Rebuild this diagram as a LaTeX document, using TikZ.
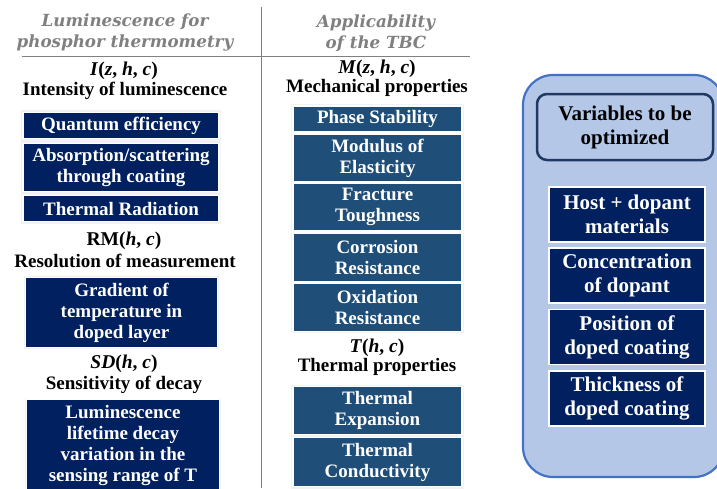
\documentclass[tikz,border=0pt]{standalone}
\usepackage{fontspec}
\setmainfont{Liberation Serif}
\newfontfamily\headfont{DejaVu Serif}
\definecolor{navy}{HTML}{002060}
\definecolor{steel}{HTML}{1F4E79}
\definecolor{lightblue}{HTML}{B4C7E7}
\definecolor{frameblue}{HTML}{4472C4}
\definecolor{darkframe}{HTML}{1F3864}
\definecolor{headgray}{HTML}{808080}
\definecolor{bggray}{HTML}{F2F2F2}
\tikzset{
  x=1pt, y=-1pt,
  boxbase/.style={rectangle, draw=white, line width=1.2pt, text=white, align=center, inner sep=0pt,
    font=\fontsize{19}{21}\selectfont\bfseries},
  lbox/.style={boxbase, fill=navy},
  mbox/.style={boxbase, fill=steel},
  rbox/.style={boxbase, fill=navy, line width=1.6pt, font=\fontsize{21}{24}\selectfont\bfseries},
  head/.style={text=headgray, font=\fontsize{16.7}{21}\selectfont\headfont\bfseries\itshape, align=center, inner sep=0pt},
  func/.style={font=\fontsize{19.5}{20}\selectfont\bfseries, inner sep=0pt},
  title/.style={font=\fontsize{19}{20}\selectfont\bfseries, inner sep=0pt},
}
\newcommand{\bi}[1]{\textbf{\textit{#1}}}
\begin{document}
\begin{tikzpicture}
\useasboundingbox (0,0) rectangle (717,488);
\fill[white] (0,0) rectangle (717,488);
% separators
\draw[headgray, line width=1pt] (261,7) -- (261,488);
\draw[headgray, line width=1pt] (22,56) -- (470,56);
% headers
\node[head] (hl) at (125,33) {Luminescence for\\phosphor thermometry};
\node[head] (hm) at (376,33) {Applicability\\of the TBC};
% left column
\node[func] (fi) at (124,71) {\bi{I}(\bi{z}, \bi{h}, \bi{c})};
\node[title] (ti) at (125,91) {Intensity of luminescence};
\fill[bggray] (21,110) rectangle (221,224);
\node[lbox, minimum width=196, minimum height=26] (qe) at (121,125.5) {Quantum efficiency};
\node[lbox, minimum width=196, minimum height=48] (ab) at (121,167.5) {Absorption/scattering\\through coating};
\node[lbox, minimum width=196, minimum height=26] (tr) at (121,208.5) {Thermal Radiation};
\node[func] (frm) at (124,241) {RM(\bi{h}, \bi{c})};
\node[title] (trm) at (125,261) {Resolution of measurement};
\fill[bggray] (24,276) rectangle (219,349);
\node[lbox, minimum width=192, minimum height=70] (gr) at (121.5,312.5) {Gradient of\\temperature in\\doped layer};
\node[func] (fsd) at (124,364) {\bi{SD}(\bi{h}, \bi{c})};
\node[title] (tsd) at (124,385) {Sensitivity of decay};
\fill[bggray] (25,398) rectangle (221,490);
\node[lbox, minimum width=193, minimum height=92] (lu) at (123,445) {Luminescence\\lifetime decay\\variation in the\\sensing range of T};
% middle column
\node[func] (fm) at (377,69) {\bi{M}(\bi{z}, \bi{h}, \bi{c})};
\node[title] (tm) at (377,88) {Mechanical properties};
\fill[bggray] (291,104) rectangle (464,333);
\node[mbox, minimum width=169, minimum height=26] (ps) at (377.5,119) {Phase Stability};
\node[mbox, minimum width=169, minimum height=48] (me) at (377.5,158) {Modulus of\\Elasticity};
\node[mbox, minimum width=169, minimum height=48] (ft) at (377.5,207) {Fracture\\Toughness};
\node[mbox, minimum width=169, minimum height=49] (cr) at (377.5,257.5) {Corrosion\\Resistance};
\node[mbox, minimum width=169, minimum height=48] (ox) at (377.5,307.5) {Oxidation\\Resistance};
\node[func] (ft2) at (377,348) {\bi{T}(\bi{h}, \bi{c})};
\node[title] (tt) at (377,367) {Thermal properties};
\fill[bggray] (291,385) rectangle (464,490);
\node[mbox, minimum width=169, minimum height=48] (te) at (377.5,410.5) {Thermal\\Expansion};
\node[mbox, minimum width=169, minimum height=49] (tc) at (377.5,462) {Thermal\\Conductivity};
% right panel
\draw[frameblue, fill=lightblue, line width=2.2pt, rounded corners=30pt] (523,75) rectangle (724,477);
\node[draw=darkframe, fill=lightblue, line width=2.5pt, rounded corners=10pt, minimum width=176, minimum height=66,
  align=center, inner sep=0pt, font=\fontsize{21}{24}\selectfont\bfseries] (var) at (625,127) {Variables to be\\optimized};
\node[rbox, minimum width=156, minimum height=55] (hd) at (627,214.5) {Host + dopant\\materials};
\node[rbox, minimum width=156, minimum height=55] (cd) at (627,275.5) {Concentration\\of dopant};
\node[rbox, minimum width=156, minimum height=55] (pd) at (627,337) {Position of\\doped coating};
\node[rbox, minimum width=156, minimum height=55] (td) at (627,398.5) {Thickness of\\doped coating};
\end{tikzpicture}
\end{document}
